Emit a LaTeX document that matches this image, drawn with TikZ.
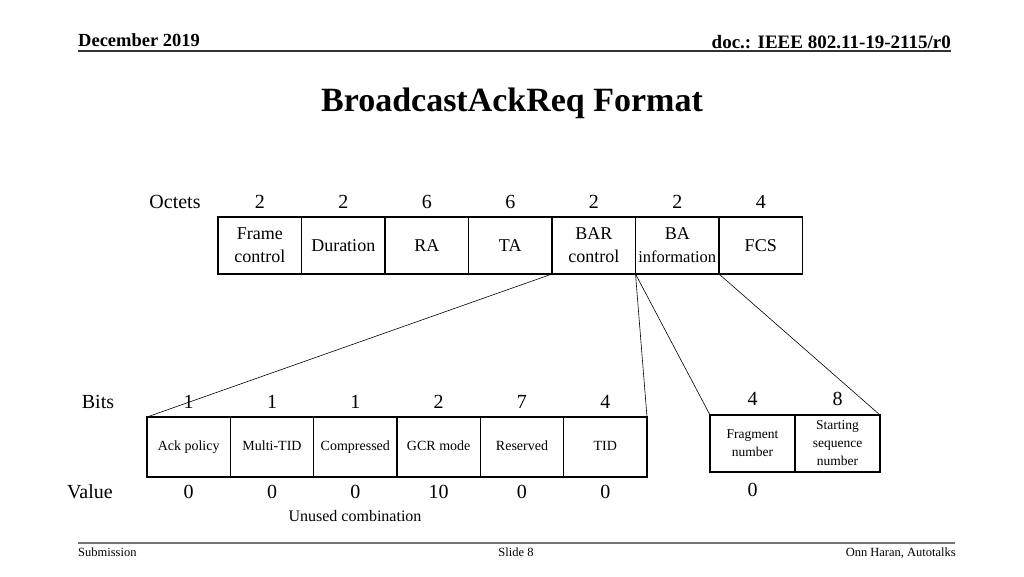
\documentclass[tikz,border=0pt]{standalone}
\usepackage{fontspec}
\setmainfont{Liberation Serif}
\newcommand{\fs}[2]{\fontsize{#1}{#2}\selectfont}
\begin{document}
\begin{tikzpicture}[x=1pt,y=-1pt,
  cell/.style={draw, line width=1.3pt, inner sep=0pt, outer sep=0pt, align=center},
  topcell/.style={cell, minimum width=83.5pt, minimum height=57pt, font=\fs{18}{23}},
  bitcell/.style={cell, minimum width=83.33pt, minimum height=60pt, font=\fs{14}{16}, text height=10pt, text depth=3pt},
  sidecell/.style={cell, minimum width=85pt, minimum height=57pt, font=\fs{13.5}{18}},
  lbl/.style={inner sep=0pt, font=\fs{20}{22}},
  conn/.style={line width=0.6pt}]
\useasboundingbox (0,0) rectangle (1024,576);
\fill[white] (0,0) rectangle (1024,576);
% header
\node[anchor=west, inner sep=0pt, font=\bfseries\fs{18.5}{20}] (date) at (78,40) {December 2019};
\node[anchor=east, inner sep=0pt, font=\bfseries\fs{19}{20}] (doc) at (951,42) {doc.: IEEE 802.11-19-2115/r0};
\draw[line width=1.2pt, black!80] (78,51) -- (951,51);
\node[inner sep=0pt, font=\bfseries\fs{34}{36}] (title) at (512,103) {BroadcastAckReq Format};
% top row
\node[lbl] (octets) at (175,202) {Octets};
\foreach \v [count=\i from 0] in {2,2,6,6,2,2,4}
  \node[lbl] (oct\i) at (259.75+83.5*\i,202) {\v};
\node[topcell] (fc)  at (259.75,245.5) {Frame\\control};
\node[topcell] (dur) at (343.25,245.5) {Duration};
\node[topcell] (ra)  at (426.75,245.5) {RA};
\node[topcell] (ta)  at (510.25,245.5) {TA};
\node[topcell] (bar) at (593.75,245.5) {BAR\\control};
\node[topcell] (ba)  at (677.25,245.5) {BA\\{\fs{16.5}{22}information}};
\node[topcell] (fcs) at (760.75,245.5) {FCS};
% bits row
\node[lbl] (bits) at (98,402) {Bits};
\foreach \v [count=\i from 0] in {1,1,1,2,7,4}
  \node[lbl] (bit\i) at (188.67+83.33*\i,402) {\v};
\node[bitcell] (ack)  at (188.67,447) {Ack policy};
\node[bitcell] (mtid) at (272,447) {Multi-TID};
\node[bitcell] (comp) at (355.33,447) {Compressed};
\node[bitcell] (gcr)  at (438.67,447) {GCR mode};
\node[bitcell] (res)  at (522,447) {Reserved};
\node[bitcell] (tid)  at (605.33,447) {TID};
\node[lbl] (value) at (90,492) {Value};
\foreach \v [count=\i from 0] in {0,0,0,10,0,0}
  \node[lbl] (val\i) at (188.67+83.33*\i,492) {\v};
\node[inner sep=0pt, font=\fs{16}{18}] (unused) at (355,516) {Unused combination};
% side boxes
\node[lbl] (sb0) at (752.5,399) {4};
\node[lbl] (sb1) at (837.5,399) {8};
\node[sidecell] (frag) at (752.5,443.5) {Fragment\\number};
\node[sidecell] (ssn)  at (837.5,443.5) {Starting\\sequence\\number};
\node[lbl] (sv0) at (752.5,490) {0};
% connectors
\draw[conn] (bar.south west) -- (ack.north west);
\draw[conn] (bar.south east) -- (tid.north east);
\draw[conn] (bar.south east) -- (frag.north west);
\draw[conn] (ba.south east) -- (ssn.north east);
% footer
\draw[line width=1.2pt, black!55] (78,543) -- (955,543);
\node[anchor=base west, inner sep=0pt, font=\fs{12.5}{14}] (sub) at (78,556) {Submission};
\node[anchor=base, inner sep=0pt, font=\fs{12.5}{14}] (slide) at (516,556) {Slide 8};
\node[anchor=base east, inner sep=0pt, font=\fs{12.5}{14}] (author) at (956,556) {Onn Haran, Autotalks};
\end{tikzpicture}
\end{document}
